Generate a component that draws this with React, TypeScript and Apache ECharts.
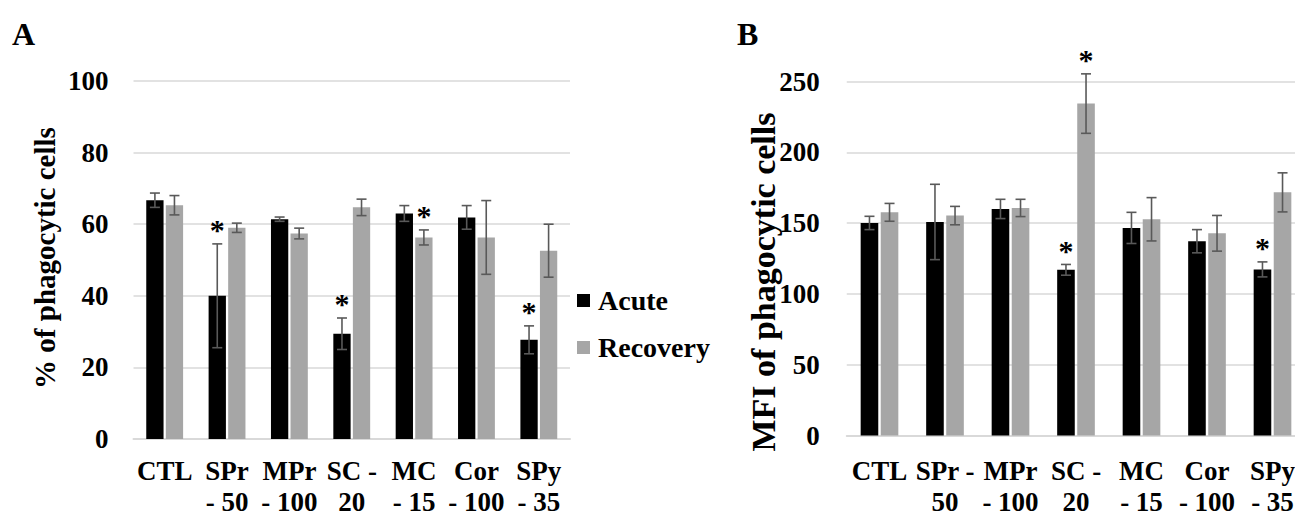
import React, { useEffect, useRef } from "react";
import * as echarts from "echarts";

// ---------- data ----------
const categoriesA = ["CTL", "SPr\n- 50", "MPr\n- 100", "SC -\n20", "MC\n- 15", "Cor\n- 100", "SPy\n- 35"];
const categoriesB = ["CTL", "SPr -\n50", "MPr\n- 100", "SC -\n20", "MC\n- 15", "Cor\n- 100", "SPy\n- 35"];

const acuteA = [66.7, 40.0, 61.4, 29.4, 63.0, 61.9, 27.7];
const acuteErrA = [2.0, 14.5, 0.6, 4.4, 2.2, 3.3, 3.9];
const recoveryA = [65.3, 59.0, 57.4, 64.7, 56.3, 56.3, 52.6];
const recoveryErrA = [2.7, 1.3, 1.5, 2.3, 2.1, 10.3, 7.4];
const acuteSigA = [0, 1, 0, 1, 0, 0, 1];
const recoverySigA = [0, 0, 0, 0, 1, 0, 0];

const acuteB = [150.1, 150.8, 160.0, 117.0, 146.6, 137.2, 117.3];
const acuteErrB = [4.7, 26.6, 6.8, 3.8, 11.0, 8.2, 5.3];
const recoveryB = [157.6, 155.3, 160.7, 234.4, 152.7, 142.8, 171.7];
const recoveryErrB = [6.3, 6.5, 6.1, 21.0, 15.3, 12.6, 13.8];
const acuteSigB = [0, 0, 0, 1, 0, 0, 1];
const recoverySigB = [0, 0, 0, 1, 0, 0, 0];

const seriesNames = ["Acute", "Recovery"];
const yTitleA = "% of phagocytic cells";
const yTitleB = "MFI of phagocytic cells";

// ---------- style ----------
const FAMILY = "'Liberation Serif', 'Times New Roman', serif";
const BLACK = "#000000";
const GRAY = "#a6a6a6";
const ERR = "#595959";
const GRID = "#d9d9d9";

const BAR_A = 17.3;
const GAP_A = 0.13;
const BAR_B = 17.6;
const GAP_B = 0.14;

const serifText = (size: number) => ({
  fontFamily: FAMILY,
  fontWeight: "bold" as const,
  fontSize: size,
  color: "#000",
});

function errSeries(
  values: number[],
  errs: number[],
  sig: number[],
  offset: number,
  axisIndex: number
) {
  return {
    type: "custom",
    xAxisIndex: axisIndex,
    yAxisIndex: axisIndex,
    z: 10,
    silent: true,
    data: values.map((v, i) => [i, v, errs[i], sig[i]]),
    encode: { x: 0, y: 1 },
    renderItem: (_params: any, api: any) => {
      const i = api.value(0);
      const v = api.value(1);
      const e = api.value(2);
      const s = api.value(3);
      const top = api.coord([i, v + e]);
      const bot = api.coord([i, v - e]);
      const x = top[0] + offset;
      const cap = 5;
      const st = { stroke: ERR, lineWidth: 1.6 };
      const children: any[] = [
        { type: "line", shape: { x1: x, y1: top[1], x2: x, y2: bot[1] }, style: st },
        { type: "line", shape: { x1: x - cap, y1: top[1], x2: x + cap, y2: top[1] }, style: st },
        { type: "line", shape: { x1: x - cap, y1: bot[1], x2: x + cap, y2: bot[1] }, style: st },
      ];
      if (s) {
        children.push({
          type: "text",
          x: x,
          y: top[1] - 14,
          style: {
            text: "*",
            fontFamily: FAMILY,
            fontWeight: "bold",
            fontSize: 30,
            textAlign: "center",
            textVerticalAlign: "middle",
            fill: "#000",
          },
        });
      }
      return { type: "group", children };
    },
  };
}

export default function App() {
  const ref = useRef<HTMLDivElement>(null);

  useEffect(() => {
    if (!ref.current) return;
    const chart = echarts.init(ref.current, undefined, { renderer: "svg" });

    const offA = BAR_A / 2 + (BAR_A * GAP_A) / 2;
    const offB = BAR_B / 2 + (BAR_B * GAP_B) / 2;

    const yAxisCommon = (max: number, interval: number, margin: number) => ({
      type: "value",
      min: 0,
      max,
      interval,
      axisLine: { show: false },
      axisTick: { show: false },
      axisLabel: {
        margin,
        ...serifText(27),
      },
      splitLine: { lineStyle: { color: GRID, width: 1.5 } },
    });

    const xAxisCommon = (cats: string[], margin: number) => ({
      type: "category",
      data: cats,
      axisTick: { show: false },
      axisLine: { lineStyle: { color: GRID, width: 2 } },
      axisLabel: {
        interval: 0,
        margin,
        ...serifText(27),
        lineHeight: 31,
      },
    });

    const option: any = {
      animation: false,
      backgroundColor: "#ffffff",
      textStyle: { fontFamily: FAMILY, fontWeight: "bold", color: "#000" },
      grid: [
        { left: 133.5, top: 81, width: 436.5, height: 358, outerBoundsMode: "none", containLabel: false },
        { left: 846.75, top: 81.5, width: 458.5, height: 354, outerBoundsMode: "none", containLabel: false },
      ],
      xAxis: [
        { ...xAxisCommon(categoriesA, 16.5), gridIndex: 0 },
        { ...xAxisCommon(categoriesB, 20), gridIndex: 1 },
      ],
      yAxis: [
        { ...yAxisCommon(100, 20, 25), gridIndex: 0 },
        { ...yAxisCommon(250, 50, 27), gridIndex: 1 },
      ],
      legend: {
        data: seriesNames,
        orient: "vertical",
        left: 577,
        top: 286.5,
        padding: 0,
        icon: "rect",
        itemWidth: 13,
        itemHeight: 13,
        itemGap: 19,
        textStyle: {
          ...serifText(28),
          lineHeight: 27,
          padding: [0, 0, 0, 3],
        },
      },
      graphic: [
        {
          type: "text",
          left: 12,
          top: 18,
          style: { text: "A", fontFamily: FAMILY, fontWeight: "bold", fontSize: 32, fill: "#000" },
        },
        {
          type: "text",
          left: 737,
          top: 18,
          style: { text: "B", fontFamily: FAMILY, fontWeight: "bold", fontSize: 32, fill: "#000" },
        },
        {
          type: "text",
          x: 45,
          y: 258,
          rotation: Math.PI / 2,
          style: {
            text: yTitleA,
            fontFamily: FAMILY,
            fontWeight: "bold",
            fontSize: 29,
            fill: "#000",
            textAlign: "center",
            textVerticalAlign: "middle",
          },
        },
        {
          type: "text",
          x: 763.5,
          y: 282,
          rotation: Math.PI / 2,
          style: {
            text: yTitleB,
            fontFamily: FAMILY,
            fontWeight: "bold",
            fontSize: 34,
            fill: "#000",
            textAlign: "center",
            textVerticalAlign: "middle",
          },
        },
      ],
      series: [
        {
          name: seriesNames[0],
          type: "bar",
          xAxisIndex: 0,
          yAxisIndex: 0,
          data: acuteA,
          barWidth: BAR_A,
          barGap: `${GAP_A * 100}%`,
          itemStyle: { color: BLACK },
        },
        {
          name: seriesNames[1],
          type: "bar",
          xAxisIndex: 0,
          yAxisIndex: 0,
          data: recoveryA,
          barWidth: BAR_A,
          barGap: `${GAP_A * 100}%`,
          itemStyle: { color: GRAY },
        },
        {
          name: seriesNames[0],
          type: "bar",
          xAxisIndex: 1,
          yAxisIndex: 1,
          data: acuteB,
          barWidth: BAR_B,
          barGap: `${GAP_B * 100}%`,
          itemStyle: { color: BLACK },
        },
        {
          name: seriesNames[1],
          type: "bar",
          xAxisIndex: 1,
          yAxisIndex: 1,
          data: recoveryB,
          barWidth: BAR_B,
          barGap: `${GAP_B * 100}%`,
          itemStyle: { color: GRAY },
        },
        errSeries(acuteA, acuteErrA, acuteSigA, -offA, 0),
        errSeries(recoveryA, recoveryErrA, recoverySigA, offA, 0),
        errSeries(acuteB, acuteErrB, acuteSigB, -offB, 1),
        errSeries(recoveryB, recoveryErrB, recoverySigB, offB, 1),
      ],
    };

    chart.setOption(option);
    return () => chart.dispose();
  }, []);

  return (
    <div
      style={{
        position: "absolute",
        left: 0,
        top: 0,
        width: 1295,
        height: 517,
        overflow: "hidden",
        background: "#fff",
      }}
    >
      <div ref={ref} style={{ width: 1320, height: 517 }} />
    </div>
  );
}
